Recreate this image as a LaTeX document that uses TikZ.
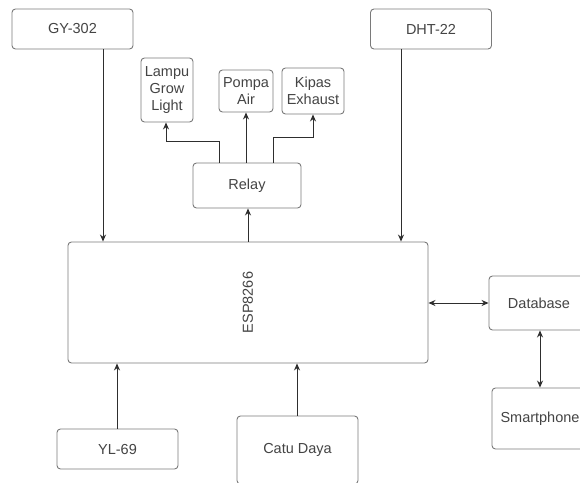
\documentclass[tikz,border=0pt]{standalone}
\usepackage{fontspec}
\setmainfont{Liberation Sans}
\usetikzlibrary{arrows.meta,calc}
\definecolor{boxline}{HTML}{7A7A7A}
\definecolor{txt}{HTML}{444444}
\definecolor{arr}{HTML}{2E2E2E}
\begin{document}
\begin{tikzpicture}[x=1pt,y=-1pt,
  blk/.style={draw=boxline,line width=0.9pt,rounded corners=3.5pt,inner sep=0pt,
    text=txt,font=\fontsize{14.5}{17}\selectfont,align=center},
  conn/.style={draw=arr,line width=1pt,-{Stealth[length=7pt,width=6pt]}},
  conn2/.style={draw=arr,line width=1pt,{Stealth[length=7pt,width=6pt]}-{Stealth[length=7pt,width=6pt]}}]
\useasboundingbox (0,0) rectangle (580,482);
\clip (0,0) rectangle (580,482);
\fill[white] (0,0) rectangle (580,482);
\node[blk,minimum width=121pt,minimum height=40pt] (gy) at (72.5,29) {GY-302};
\node[blk,minimum width=121pt,minimum height=40pt] (dht) at (431,29) {DHT-22};
\node[blk,minimum width=52pt,minimum height=64pt] (lampu) at (167,90) {Lampu\\Grow\\Light};
\node[blk,minimum width=54pt,minimum height=42pt] (pompa) at (246,91) {Pompa\\Air};
\node[blk,minimum width=62pt,minimum height=46pt] (kipas) at (313,91) {Kipas\\Exhaust};
\node[blk,minimum width=108pt,minimum height=45pt] (relay) at (247,185.5) {Relay};
\node[blk,minimum width=360pt,minimum height=121pt] (esp) at (248,302.5) {};
\node[text=txt,font=\fontsize{14.5}{17}\selectfont,rotate=90] (esplbl) at (esp.center) {ESP8266};
\node[blk,minimum width=100pt,minimum height=54pt] (db) at (539,303) {Database};
\node[blk,minimum width=96pt,minimum height=61pt] (sp) at (540,418.5) {Smartphone};
\node[blk,minimum width=121pt,minimum height=40pt] (yl) at (117.5,449) {YL-69};
\node[blk,minimum width=121pt,minimum height=68pt] (catu) at (297.5,450) {Catu Daya};
% helper x positions
\coordinate (xgy) at (103,0);
\coordinate (xdht) at (401,0);
\coordinate (xrel) at (248,0);
\coordinate (xyl) at (117,0);
\coordinate (xcatu) at (297,0);
\coordinate (xl) at (219,0);
\coordinate (xp) at (246,0);
\coordinate (xk) at (273,0);
\coordinate (xlt) at (166,0);
\coordinate (xdb) at (540,0);
\coordinate (ydb) at (0,303);
\draw[conn] (gy.south -| xgy) -- (esp.north -| xgy);
\draw[conn] (dht.south -| xdht) -- (esp.north -| xdht);
\draw[conn] (esp.north -| xrel) -- (relay.south -| xrel);
\draw[conn] (yl.north -| xyl) -- (esp.south -| xyl);
\draw[conn] (catu.north -| xcatu) -- (esp.south -| xcatu);
\draw[conn] (relay.north -| xl) -- ++(0,-21) -| (lampu.south -| xlt);
\draw[conn] (relay.north -| xp) -- (pompa.south -| xp);
\draw[conn] (relay.north -| xk) -- ++(0,-25) -| (kipas.south);
\draw[conn2] (esp.east |- ydb) -- (db.west |- ydb);
\draw[conn2] (db.south -| xdb) -- (sp.north -| xdb);
\end{tikzpicture}
\end{document}
